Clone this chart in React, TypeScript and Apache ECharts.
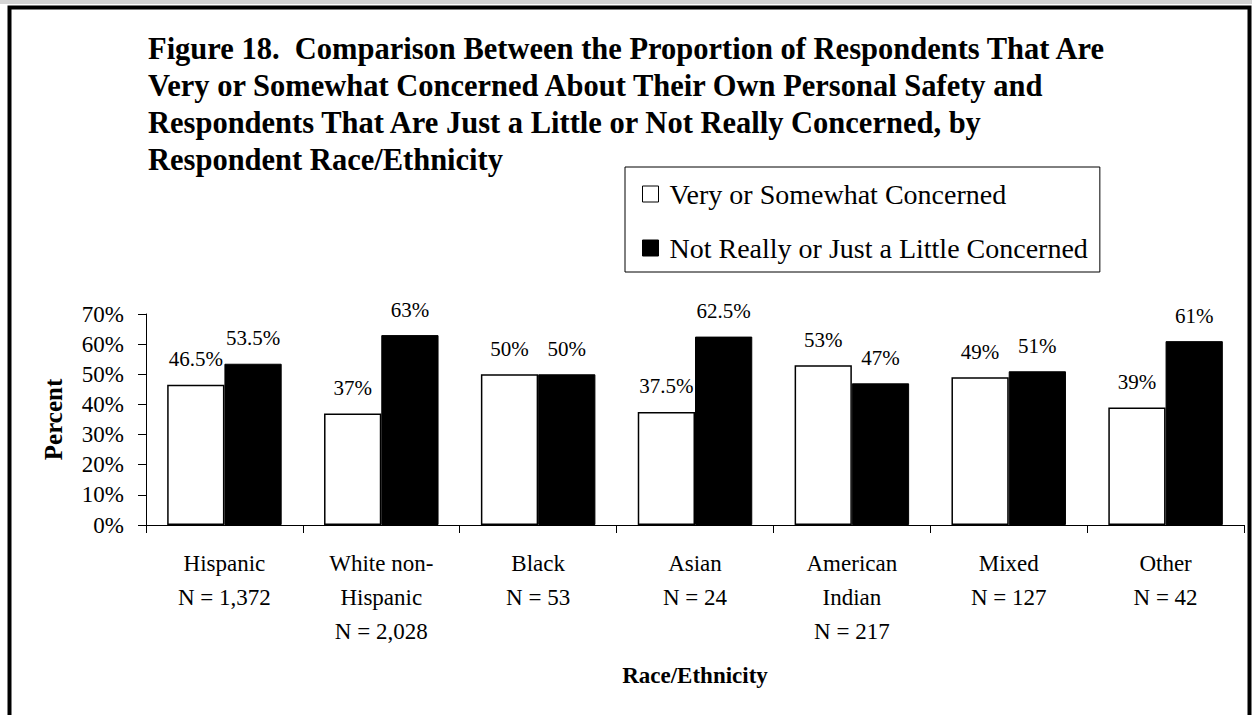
import React, { useEffect, useRef } from "react";
import * as echarts from "echarts";

const titleLines = [
  "Figure 18.  Comparison Between the Proportion of Respondents That Are",
  "Very or Somewhat Concerned About Their Own Personal Safety and",
  "Respondents That Are Just a Little or Not Really Concerned, by",
  "Respondent Race/Ethnicity",
];

const categories = [
  "Hispanic\nN = 1,372",
  "White non-\nHispanic\nN = 2,028",
  "Black\nN = 53",
  "Asian\nN = 24",
  "American\nIndian\nN = 217",
  "Mixed\nN = 127",
  "Other\nN = 42",
];

const seriesNames = ["Very or Somewhat Concerned", "Not Really or Just a Little Concerned"];
const concerned = [46.5, 37, 50, 37.5, 53, 49, 39];
const notConcerned = [53.5, 63, 50, 62.5, 47, 51, 61];

const yTicks = { min: 0, max: 70, interval: 10 };

const FONT = "'Liberation Serif', 'Times New Roman', serif";

export default function App() {
  const ref = useRef<HTMLDivElement>(null);

  useEffect(() => {
    if (!ref.current) return;
    const chart = echarts.init(ref.current, undefined, { renderer: "svg" });
    const labelStyle = {
      show: true,
      position: "top" as const,
      distance: 15,
      formatter: "{c}%",
      fontFamily: FONT,
      fontSize: 21,
      color: "#000",
    };
    chart.setOption({
      animation: false,
      backgroundColor: "#fff",
      textStyle: { fontFamily: FONT, color: "#000" },
      title: {
        text: titleLines.join("\n"),
        left: 148,
        top: 30,
        padding: 0,
        textStyle: {
          fontFamily: FONT,
          fontSize: 30.5,
          fontWeight: "bold",
          lineHeight: 37,
          color: "#000",
        },
      },
      legend: {
        orient: "vertical",
        left: 625,
        top: 167,
        padding: [13, 12, 10, 17],
        itemGap: 26,
        itemWidth: 16,
        itemHeight: 16,
        borderColor: "#000",
        borderWidth: 1,
        backgroundColor: "#fff",
        icon: "rect",
        textStyle: {
          fontFamily: FONT,
          fontSize: 28,
          color: "#000",
          padding: [0, 0, 0, 6],
        },
        data: [
          { name: seriesNames[0], itemStyle: { color: "#fff", borderColor: "#000", borderWidth: 1 } },
          { name: seriesNames[1], itemStyle: { color: "#000", borderColor: "#000", borderWidth: 1 } },
        ],
      },
      grid: { left: 146, right: 8, top: 314, bottom: 190, containLabel: false },
      xAxis: {
        type: "category",
        data: categories,
        name: "Race/Ethnicity",
        nameLocation: "middle",
        nameGap: 139,
        nameTextStyle: { fontFamily: FONT, fontSize: 23, fontWeight: "bold", color: "#000" },
        axisLine: { lineStyle: { color: "#000", width: 1 } },
        axisTick: { show: true, length: 8, inside: false, lineStyle: { color: "#000" } },
        axisLabel: {
          fontFamily: FONT,
          fontSize: 23,
          lineHeight: 34,
          margin: 21,
          color: "#000",
          interval: 0,
        },
        splitLine: { show: false },
      },
      yAxis: {
        type: "value",
        min: yTicks.min,
        max: yTicks.max,
        interval: yTicks.interval,
        name: "Percent",
        nameLocation: "middle",
        nameGap: 80,
        nameRotate: 90,
        nameTextStyle: { fontFamily: FONT, fontSize: 25, fontWeight: "bold", color: "#000" },
        axisLine: { show: true, lineStyle: { color: "#000", width: 1 } },
        axisTick: { show: true, length: 8, inside: false, lineStyle: { color: "#000" } },
        axisLabel: {
          formatter: "{value}%",
          fontFamily: FONT,
          fontSize: 23,
          margin: 22,
          color: "#000",
        },
        splitLine: { show: false },
      },
      series: [
        {
          name: seriesNames[0],
          type: "bar",
          data: concerned,
          barGap: "0%",
          barCategoryGap: "27%",
          itemStyle: { color: "#fff", borderColor: "#000", borderWidth: 1.5 },
          label: labelStyle,
        },
        {
          name: seriesNames[1],
          type: "bar",
          data: notConcerned,
          barGap: "0%",
          barCategoryGap: "27%",
          itemStyle: { color: "#000", borderColor: "#000", borderWidth: 1 },
          label: labelStyle,
        },
      ],
      graphic: [
        { type: "rect", left: 0, top: 0, shape: { width: 1252, height: 4 }, style: { fill: "#d4d4d4" }, silent: true },
        {
          type: "rect",
          x: 9.5,
          y: 7.5,
          shape: { width: 1240, height: 730 },
          style: { fill: "none", stroke: "#000", lineWidth: 4 },
          silent: true,
        },
      ],
    });
    return () => chart.dispose();
  }, []);

  return (
    <div
      ref={ref}
      style={{ position: "fixed", left: 0, top: 0, width: 1252, height: 715, background: "#fff" }}
    />
  );
}
